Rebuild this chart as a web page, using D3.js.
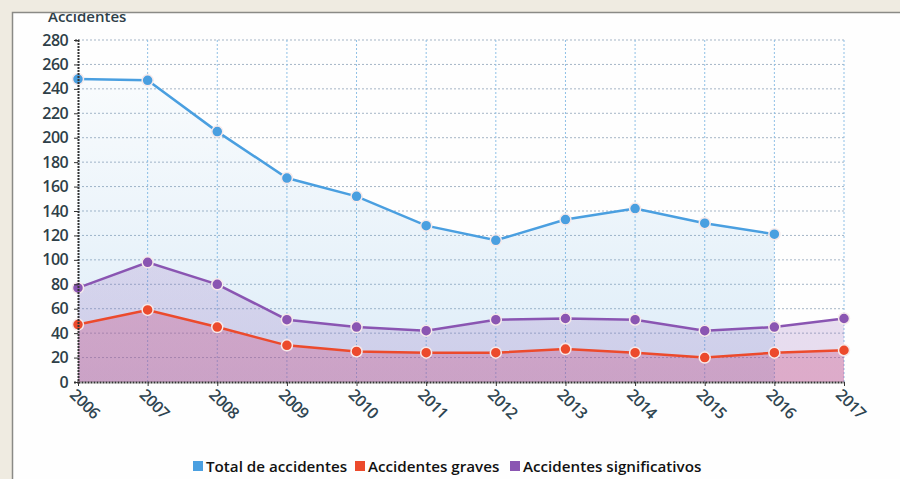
<!DOCTYPE html>
<html>
<head>
<meta charset="utf-8">
<script src="https://cdn.jsdelivr.net/npm/d3@7"></script>
<style>
  body { margin: 0; background: #efebe1; }
  text { font-family: "Open Sans", sans-serif; }
</style>
</head>
<body>
<script>
var years = ["2006","2007","2008","2009","2010","2011","2012","2013","2014","2015","2016","2017"];
var totalValues = [248, 247, 205, 167, 152, 128, 116, 133, 142, 130, 121, null];
var gravesValues = [47, 59, 45, 30, 25, 24, 24, 27, 24, 20, 24, 26];
var significativosValues = [77, 98, 80, 51, 45, 42, 51, 52, 51, 42, 45, 52];
var yTicks = [0, 20, 40, 60, 80, 100, 120, 140, 160, 180, 200, 220, 240, 260, 280];
var seriesNames = ["Total de accidentes", "Accidentes graves", "Accidentes significativos"];

var w = 900, h = 479;
var margin = { top: 40, left: 78, right: 56, bottom: 97 };

var svg = d3.select("body").append("svg")
    .attr("width", w)
    .attr("height", h);

// white panel
svg.append("rect").attr("x", 12).attr("y", 12).attr("width", w).attr("height", h)
  .attr("fill", "#fefefe");
svg.append("path").attr("d", "M12.5," + h + "V12.5H" + w)
  .attr("fill", "none").attr("stroke", "#8a8a86").attr("stroke-width", 1.5);

var x = d3.scalePoint().domain(years).range([margin.left, w - margin.right]);
var y = d3.scaleLinear().domain([0, 280]).range([h - margin.bottom, margin.top]);

var defs = svg.append("defs");
function grad(id, color, o1, o2) {
  var g = defs.append("linearGradient").attr("id", id)
    .attr("gradientUnits", "userSpaceOnUse")
    .attr("x1", 0).attr("y1", y(250)).attr("x2", 0).attr("y2", y(0));
  g.append("stop").attr("offset", "0%").attr("stop-color", color).attr("stop-opacity", o1);
  g.append("stop").attr("offset", "100%").attr("stop-color", color).attr("stop-opacity", o2);
}
grad("gTotal", "#5aa6df", 0.03, 0.2);
grad("gSig", "#8a55b2", 0.17, 0.2);
grad("gGraves", "#c8487e", 0.28, 0.33);

// grid
var grid = svg.append("g");
grid.selectAll(".hg").data(yTicks.slice(1)).enter().append("line")
  .attr("x1", margin.left).attr("x2", w - margin.right)
  .attr("y1", function(d) { return y(d); }).attr("y2", function(d) { return y(d); })
  .attr("stroke", "#a5b5c6").attr("stroke-width", 1).attr("stroke-dasharray", "2,2");
grid.selectAll(".vg").data(years.slice(1)).enter().append("line")
  .attr("x1", function(d) { return x(d); }).attr("x2", function(d) { return x(d); })
  .attr("y1", y(280)).attr("y2", y(0))
  .attr("stroke", "#8fc0e6").attr("stroke-width", 1).attr("stroke-dasharray", "2,2");

var series = [
  { name: seriesNames[0], values: totalValues, color: "#4a9fe0", fill: "url(#gTotal)" },
  { name: seriesNames[2], values: significativosValues, color: "#8a55b2", fill: "url(#gSig)" },
  { name: seriesNames[1], values: gravesValues, color: "#ec4a2c", fill: "url(#gGraves)" }
];

series.forEach(function(s) {
  var pts = years.map(function(yr, i) { return { year: yr, v: s.values[i] }; })
    .filter(function(d) { return d.v != null; });
  var area = d3.area().x(function(d) { return x(d.year); }).y0(y(0)).y1(function(d) { return y(d.v); });
  svg.append("path").datum(pts).attr("d", area).attr("fill", s.fill);
  s.pts = pts;
});

series.forEach(function(s) {
  var line = d3.line().x(function(d) { return x(d.year); }).y(function(d) { return y(d.v); });
  svg.append("path").datum(s.pts).attr("d", line)
    .attr("fill", "none").attr("stroke", s.color).attr("stroke-width", 2.5);
  svg.selectAll(null).data(s.pts).enter().append("circle")
    .attr("cx", function(d) { return x(d.year); })
    .attr("cy", function(d) { return y(d.v); })
    .attr("r", 5.5)
    .attr("fill", s.color)
    .attr("stroke", "#f6e9ea").attr("stroke-width", 1.5);
});

// y axis
var yAxis = svg.append("g").attr("transform", "translate(" + margin.left + ",0)")
  .call(d3.axisLeft(y).tickValues(yTicks).tickSize(4).tickPadding(6));
yAxis.select(".domain").attr("stroke", "#333").attr("stroke-width", 2).attr("stroke-dasharray", "2,1");
yAxis.selectAll(".tick line").attr("stroke", "#333");
yAxis.selectAll("text").attr("font-size", 16).attr("font-weight", 600).attr("fill", "#2e3f48")
  .attr("letter-spacing", -0.6);

// x axis
var xAxis = svg.append("g").attr("transform", "translate(0," + y(0) + ")")
  .call(d3.axisBottom(x).tickSize(4).tickSizeOuter(0).tickPadding(4));
xAxis.select(".domain").attr("stroke", "#333").attr("stroke-width", 2).attr("stroke-dasharray", "2,1");
xAxis.selectAll(".tick line").attr("stroke", "#333");
xAxis.selectAll("text")
  .attr("font-size", 16).attr("font-weight", 600).attr("fill", "#2e4450")
  .attr("letter-spacing", -0.6)
  .attr("text-anchor", "start").attr("dy", 0)
  .attr("transform", "translate(-4,8) rotate(45)");

// y title
svg.append("clipPath").attr("id", "panelClip").append("rect")
  .attr("x", 12).attr("y", 13).attr("width", w).attr("height", h);
svg.append("text").attr("x", 48).attr("y", 22)
  .attr("clip-path", "url(#panelClip)")
  .attr("font-size", 15).attr("font-weight", 600).attr("fill", "#2e3f48")
  .text("Accidentes");

// legend
var legend = [
  { name: seriesNames[0], color: "#4a9fe0", x: 193 },
  { name: seriesNames[1], color: "#ec4a2c", x: 355 },
  { name: seriesNames[2], color: "#8a55b2", x: 510 }
];
var lg = svg.selectAll(".lg").data(legend).enter().append("g")
  .attr("transform", function(d) { return "translate(" + d.x + ",466)"; });
lg.append("rect").attr("x", 0).attr("y", -5).attr("width", 10).attr("height", 10)
  .attr("fill", function(d) { return d.color; });
lg.append("text").attr("x", 13).attr("y", 5.5)
  .attr("font-size", 15.2).attr("font-weight", 600).attr("fill", "#111")
  .text(function(d) { return d.name; });
</script>
</body>
</html>
